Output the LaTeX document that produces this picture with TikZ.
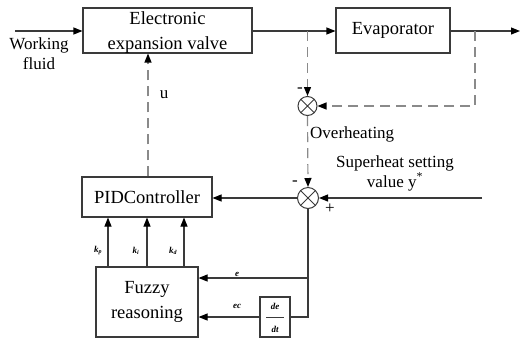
\documentclass[tikz,border=0pt]{standalone}
\usepackage{fontspec}
\setmainfont{Liberation Serif}
\usetikzlibrary{arrows.meta,calc}
\definecolor{ln}{HTML}{3A3A3A}
\definecolor{dl}{HTML}{8A8A8A}
\begin{document}
\begin{tikzpicture}[x=1pt,y=-1pt,
  blk/.style={draw=ln, line width=1.1pt, fill=white, inner sep=1pt, align=center,
    font=\fontsize{18.5}{25}\selectfont},
  btxt/.style={inner sep=0pt, align=center, font=\fontsize{18.5}{25}\selectfont},
  sumj/.style={circle, draw=ln, line width=1pt, minimum size=19pt, inner sep=0pt,
    path picture={\draw[ln,line width=0.9pt]
      (path picture bounding box.north west) -- (path picture bounding box.south east)
      (path picture bounding box.north east) -- (path picture bounding box.south west);}},
  tip/.style={-{Triangle[length=9pt,width=7pt,color=black]}},
  flow/.style={draw=ln, line width=1.1pt, tip},
  dflow/.style={draw=dl, line width=1.2pt, dash pattern=on 10pt off 6pt, tip},
  lbl/.style={font=\fontsize{17}{20}\selectfont, inner sep=0pt},
  sml/.style={font=\fontsize{9}{10}\selectfont\bfseries\itshape, inner sep=0pt}]
\useasboundingbox (0,0) rectangle (524,341);
% blocks
\node[blk, minimum width=169pt, minimum height=45pt] (eev) at (167.5,30.5) {};
\node[btxt] (eevt) at (167.5,33) {Electronic\\expansion valve};
\node[blk, minimum width=114pt, minimum height=45pt] (evap) at (393,30.5) {Evaporator};
\node[blk, minimum width=130pt, minimum height=40pt] (pid) at (147,197) {PIDController};
\node[blk, minimum width=102pt, minimum height=70pt] (fuz) at (147,302) {Fuzzy\\reasoning};
\node[draw=ln, line width=1.1pt, minimum width=30pt, minimum height=40pt, inner sep=0pt] (dd) at (275,317) {};
\node[sml] (ddn) at (275,306) {de};
\node[sml] (ddd) at (275,329) {dt};
\draw[ln, line width=0.9pt] (266,317) -- (284,317);
% summing junctions
\node[sumj] (s1) at (307.5,106) {};
\node[sumj, minimum size=21pt] (s2) at (308,198) {};
% coordinates
\coordinate (in) at (15,31);
\coordinate (out) at (520,31);
\coordinate (br) at (475,31);
\coordinate (tap) at (307.5,31);
\coordinate (ysp) at (482,198);
\coordinate (je) at (308,278);
\coordinate (jd) at (308,317);
\coordinate (uu) at (148,177);
% main flow
\draw[flow] (in) -- (eev.west |- in);
\draw[flow] (eev.east |- tap) -- (evap.west |- tap);
\draw[flow] (evap.east |- out) -- (out);
% dashed feedback
\draw[dflow] (tap) -- (s1.north);
\draw[dflow] (br) -- (br |- s1) -- (s1.east);
\draw[dflow] (s1.south) -- (s2.north);
\draw[dflow] (pid.north -| uu) -- (eev.south -| uu);
% setpoint and error
\draw[flow] (ysp) -- (s2.east);
\draw[flow] (s2.west) -- (pid.east |- s2);
\draw[draw=ln, line width=1.1pt] (s2.south) -- (jd) -- (dd.east |- jd);
\draw[flow] (je) -- (fuz.east |- je);
\draw[flow] (dd.west) -- (fuz.east |- dd);
% gains
\foreach \xx in {108,147,184}
  \draw[flow] (fuz.north -| {(\xx,0)}) -- (pid.south -| {(\xx,0)});
% labels
\node[lbl, align=center] (wf) at (39,54) {Working\\fluid};
\node[lbl] (lu) at (164,95) {u};
\node[lbl] (m1) at (300,90) {-};
\node[lbl, anchor=west] (oh) at (310,134) {Overheating};
\node[lbl, align=center] (sp) at (395,173) {Superheat setting\\value y\textsuperscript{*}};
\node[lbl] (m2) at (295,183) {-};
\node[lbl] (p2) at (330,209) {+};
\node[sml] (kp) at (98,251) {k\textsubscript{p}};
\node[sml] (ki) at (136,251) {k\textsubscript{i}};
\node[sml] (kd) at (173,251) {k\textsubscript{d}};
\node[sml] (le) at (237,274) {e};
\node[sml] (lec) at (237,306) {ec};
\end{tikzpicture}
\end{document}
